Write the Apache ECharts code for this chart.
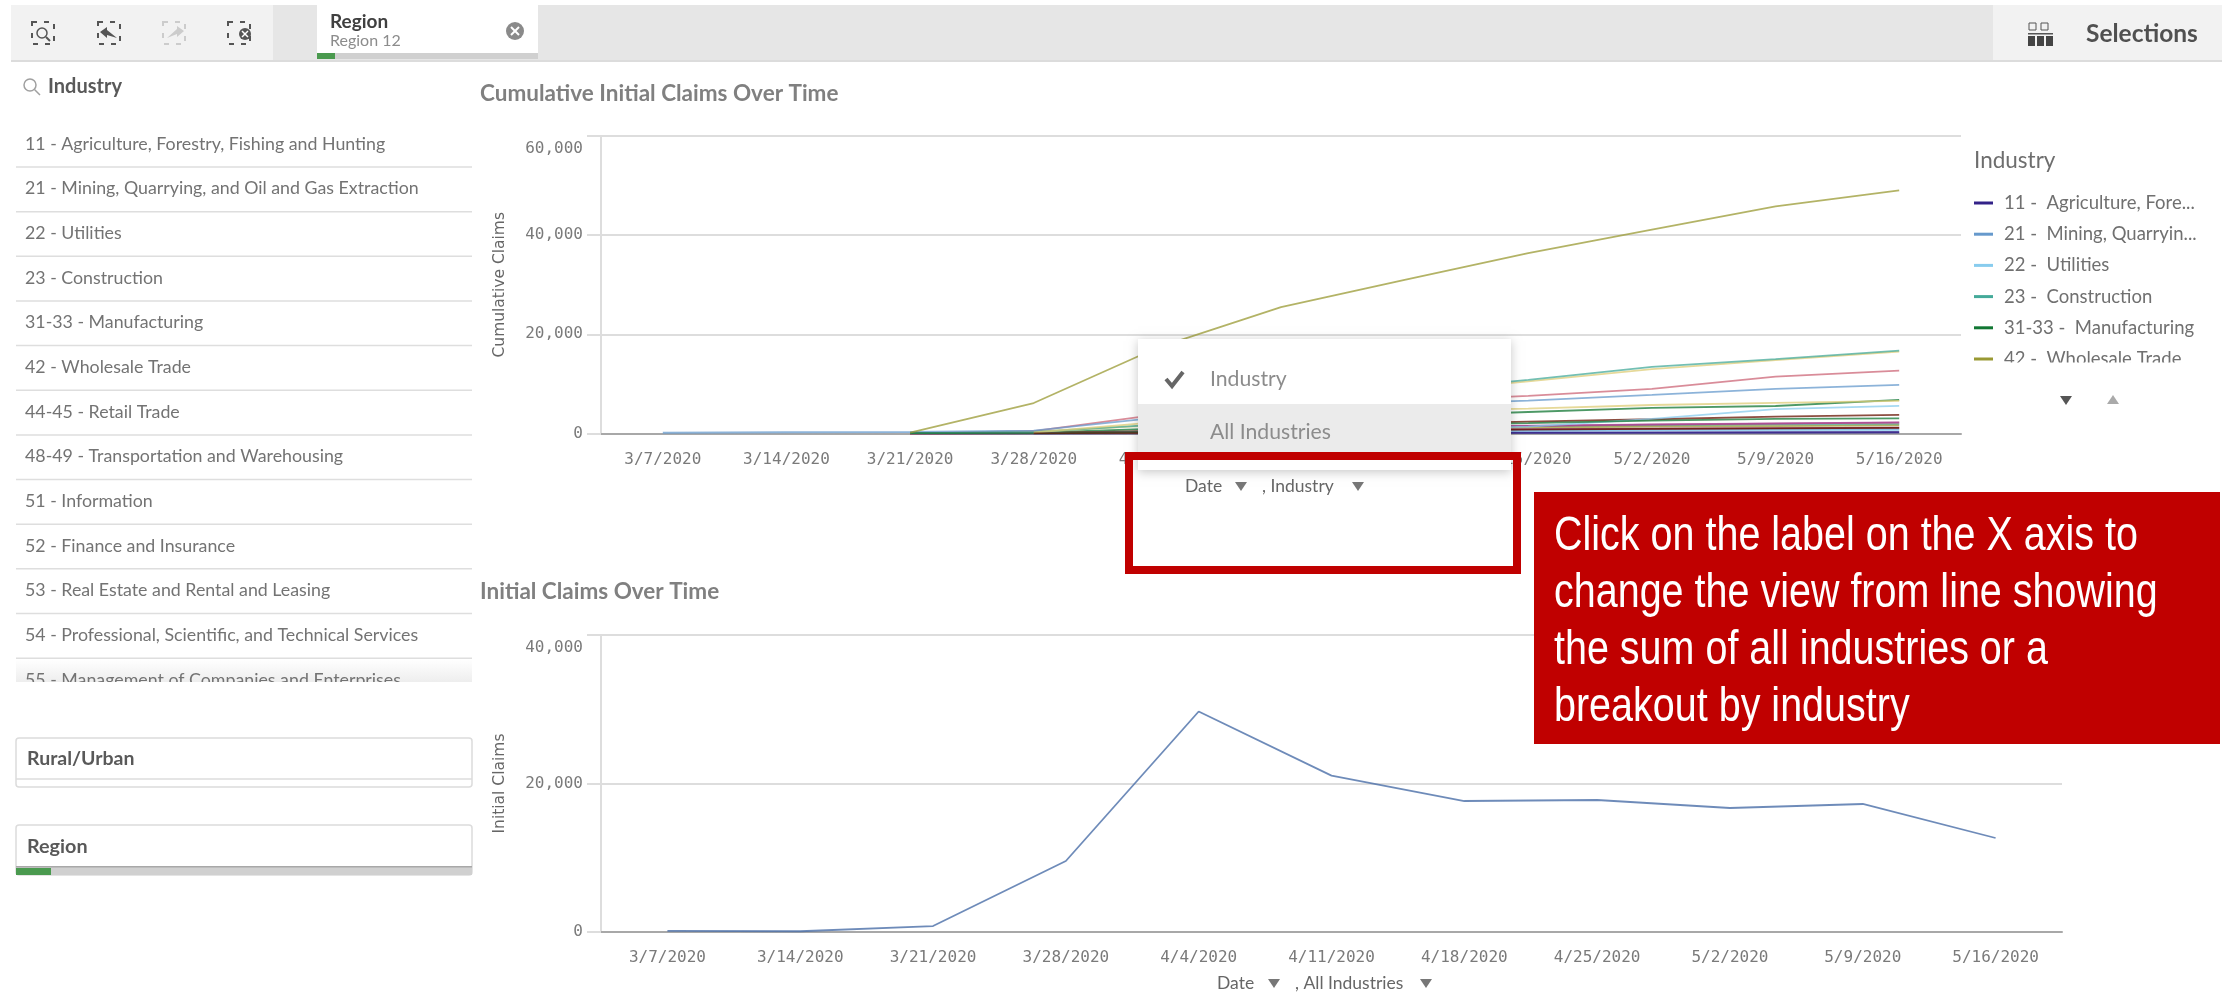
<!DOCTYPE html>
<html><head><meta charset="utf-8">
<style>html,body{margin:0;padding:0;background:#fff}#c{width:2227px;height:993px}</style>
<script src="https://cdn.jsdelivr.net/npm/echarts@6/dist/echarts.min.js"></script>
</head><body><div id="c"></div>
<script>
const dates = ['3/7/2020','3/14/2020','3/21/2020','3/28/2020','4/4/2020','4/11/2020','4/18/2020','4/25/2020','5/2/2020','5/9/2020','5/16/2020'];
const sideList = ['11 - Agriculture, Forestry, Fishing and Hunting','21 - Mining, Quarrying, and Oil and Gas Extraction','22 - Utilities','23 - Construction','31-33 - Manufacturing','42 - Wholesale Trade','44-45 - Retail Trade','48-49 - Transportation and Warehousing','51 - Information','52 - Finance and Insurance','53 - Real Estate and Rental and Leasing','54 - Professional, Scientific, and Technical Services','55 - Management of Companies and Enterprises'];
const industries = ['11 -  Agriculture, Forestry, Fishing and Hunting','21 -  Mining, Quarrying, and Oil and Gas Extraction','22 -  Utilities','23 -  Construction','31-33 -  Manufacturing','42 -  Wholesale Trade','44-45 -  Retail Trade','48-49 -  Transportation and Warehousing','51 -  Information','52 -  Finance and Insurance','53 -  Real Estate and Rental and Leasing','54 -  Professional, Scientific, and Technical Services','55 -  Management of Companies and Enterprises','56 -  Administrative and Support Services','61 -  Educational Services','62 -  Health Care and Social Assistance','71 -  Arts, Entertainment, and Recreation','72 -  Accommodation and Food Services','81 -  Other Services','92 -  Public Administration'];
const legendItems = industries.slice(0,6);
const palette = ['#332288','#6699cc','#88ccee','#44aa99','#117733','#999933','#ddcc77','#661100','#cc6677','#aa4466','#882255','#aa4499'];

const v11 = [null,null,1,5,30,60,90,110,130,150,160];
const v21 = [null,null,2,15,120,350,520,620,720,820,900];
const v22 = [null,null,1,10,60,200,380,480,560,640,700];
const v23 = [null,null,10,100,400,1000,1400,1500,1650,1800,1900];
const v31 = [null,null,30,150,1000,2400,3500,4340,5150,5550,6770];
const v42 = [null,null,5,60,300,700,1000,1200,1400,1500,1650];
const v44 = [null,null,15,280,1700,4800,8200,10500,13000,14800,16500];
const v48 = [null,null,5,60,500,1300,1900,2390,2870,3400,3740];
const v51 = [null,null,25,500,3800,5200,6500,7580,8980,11470,12690];
const v52 = [null,null,2,20,150,600,1200,1500,1800,2000,2180];
const v53 = [null,null,2,20,200,500,750,900,1000,1100,1170];
const v54 = [null,null,5,50,300,800,1300,1600,1850,2050,2250];
const v55 = [null,null,null,5,30,90,150,190,230,270,300];
const v56 = [150,250,300,560,3200,4700,5800,6620,7780,8980,9800];
const v61 = [null,null,null,20,100,300,800,1370,2930,4900,5560];
const v62 = [null,null,20,300,1800,5000,8500,10800,13420,15000,16730];
const v71 = [null,null,60,40,300,1000,1700,2100,2590,2930,3070];
const v72 = [null,null,180,6150,17300,25500,31000,36400,41100,45800,49050];
const v81 = [null,null,null,200,2300,3700,4500,5010,5750,6160,6560];
const v92 = [null,null,null,10,100,400,650,800,950,1050,1150];
const cumulative = [v11,v21,v22,v23,v31,v42,v44,v48,v51,v52,v53,v54,v55,v56,v61,v62,v71,v72,v81,v92];
const initialClaims = [150,100,800,9560,29700,21060,17640,17780,16700,17240,12660];

const UI = 'Lato, "Noto Sans", sans-serif';
const MONO = '"DejaVu Sans Mono", monospace';
const Z = 100;
const rect = (x,y,w,h,fill,extra) => Object.assign({type:'rect',z:Z,shape:{x,y,width:w,height:h},style:{fill}},extra||{});
const line = (x1,y1,x2,y2,stroke,lw) => ({type:'line',z:Z,shape:{x1,y1,x2,y2},style:{stroke,lineWidth:lw||1}});
const text = (x,y,t,size,fill,weight,family,extra) => Object.assign({type:'text',z:Z+1,x,y,style:{text:t,fontSize:size,fill,fontWeight:weight||'normal',fontFamily:family||UI,verticalAlign:'middle',align:'left'}},extra||{});
const tri = (cx,cy,fill,up) => ({type:'polygon',z:Z+1,shape:{points:up?[[cx-6,cy+4],[cx+6,cy+4],[cx,cy-5]]:[[cx-6,cy-4],[cx+6,cy-4],[cx,cy+5]]},style:{fill}});
const dash = (cx,cy,col) => ({type:'rect',z:Z,shape:{x:cx-11,y:cy-11,width:22,height:22},style:{fill:'none',stroke:col,lineWidth:2,lineDash:[5,7]}});

const g = [];
// toolbar
g.push(rect(11,5,262,56,'#f2f2f2'), rect(273,5,1720,56,'#e6e6e6'), rect(1993,5,229,56,'#f2f2f2'), rect(11,60,2211,2,'#dcdcdc'));
g.push(dash(43,33,'#555'), {type:'circle',z:Z,shape:{cx:42,cy:33,r:5},style:{fill:'none',stroke:'#555',lineWidth:1.5}}, line(46,37,50,41,'#555',2));
g.push(dash(109,33,'#555'), {type:'polygon',z:Z,shape:{points:[[100,32],[107,27],[107,30],[117,38],[107,35],[107,38]]},style:{fill:'#555'}});
g.push(dash(174,33,'#ccc'), {type:'polygon',z:Z,shape:{points:[[184,31],[177,26],[177,29],[167,38],[177,34],[177,37]]},style:{fill:'#ccc'}});
g.push(dash(239,33,'#555'), {type:'circle',z:Z,shape:{cx:245,cy:34,r:6},style:{fill:'#555'}}, line(242,31,248,37,'#fff',1.5), line(248,31,242,37,'#fff',1.5));
// tab
g.push(rect(317,5,221,48,'#fff'), rect(317,53,221,6,'#d0d0d0'), rect(317,53,18,6,'#4a9a4f'));
g.push(text(330,22,'Region',19,'#404040','bold'), text(330,41,'Region 12',16,'#8c8c8c'));
g.push({type:'circle',z:Z,shape:{cx:515,cy:31,r:9},style:{fill:'#8a8a8a'}}, line(511,27,519,35,'#fff',2), line(519,27,511,35,'#fff',2));
// selections
g.push(rect(2029,23,7,7,'none',{style:{fill:'none',stroke:'#555',lineWidth:1}}), rect(2041,23,7,7,'none',{style:{fill:'none',stroke:'#555',lineWidth:1}}), rect(2028,33,25,1.5,'#555'), rect(2028,36,7,10,'#444'), rect(2037,36,7,10,'#444'), rect(2046,36,7,10,'#444'));
g.push(text(2086,34,'Selections',24.5,'#505050','bold'));
// sidebar list
g.push({type:'circle',z:Z,shape:{cx:30,cy:85,r:6},style:{fill:'none',stroke:'#a0a0a0',lineWidth:1.5}}, line(34.5,89.5,40,95,'#a0a0a0',1.5));
g.push(text(48,87,'Industry',20,'#595959','bold'));
sideList.forEach((s,i)=>{
  const sep = 167+44.65*i;
  if(i===12){ g.push(rect(16,sep-44.65+1,456,25,'#f4f4f4',{style:{fill:new echarts.graphic.LinearGradient(0,0,0,1,[{offset:0,color:'#ffffff'},{offset:1,color:'#ececec'}])}})); }
  g.push(text(25,sep-23,s,17.8,'#737373'));
  if(i<12) g.push(line(16,sep,472,sep,'#dedede',1.5));
});
g.push(Object.assign(rect(0,682,490,34,'#fff'),{z:Z+2}));
// filter boxes
g.push({type:'rect',z:Z,shape:{x:16,y:738,width:456,height:49,r:3},style:{fill:'#fff',stroke:'#dcdcdc',lineWidth:1.5}}, line(16,779,472,779,'#dcdcdc',1.5));
g.push(text(27,759,'Rural/Urban',19.5,'#595959','bold'));
g.push({type:'rect',z:Z,shape:{x:16,y:825,width:456,height:50,r:3},style:{fill:'#fff',stroke:'#dcdcdc',lineWidth:1.5}}, rect(16,867,456,8,'#d0d0d0'), rect(16,866,456,1.5,'#a8a8a8'), rect(16,868,35,7,'#4a9a4f'));
g.push(text(27,847,'Region',19.8,'#595959','bold'));
// titles
g.push(text(480,94,'Cumulative Initial Claims Over Time',22.5,'#808080','bold'));
g.push(text(480,592,'Initial Claims Over Time',22.5,'#808080','bold'));
// legend heading, mask and pager
g.push(text(1974,161,'Industry',22.5,'#6e6e6e'));
g.push(rect(1968,362.5,259,26,'#fff'));
g.push(tri(2066,400,'#555',false), tri(2113,400,'#aaa',true));
// axis titles with dimension arrows
g.push(text(1185,486,'Date',17.5,'#666'), tri(1241,486,'#777',false), text(1262,486,', Industry',17.5,'#666'), tri(1358,486,'#777',false));
g.push(text(1217,983,'Date',17.5,'#666'), tri(1274,983,'#777',false), text(1295,983,', All Industries',17.5,'#666'), tri(1426,983,'#777',false));
// popup
g.push(rect(1138,339,373,131,'#fff',{style:{fill:'#fff',shadowBlur:10,shadowColor:'rgba(0,0,0,0.22)',shadowOffsetY:2}}));
g.push(rect(1138,404,373,48,'#ebebeb'));
g.push({type:'polyline',z:Z+1,shape:{points:[[1166,379],[1172,386],[1183,372]]},style:{fill:'none',stroke:'#666',lineWidth:4}});
g.push(text(1210,379,'Industry',21.2,'#8c8c8c'), text(1210,432,'All Industries',21.2,'#8c8c8c'));
// red box and callout
g.push({type:'rect',z:Z+2,shape:{x:1129,y:456,width:388,height:114},style:{fill:'none',stroke:'#c00000',lineWidth:8}});
g.push(Object.assign(rect(1534,492,686,252,'#c00000'),{z:Z+2}));
['Click on the label on the X axis to','change the view from line showing','the sum of all industries or a','breakout by industry'].forEach((s,i)=>{
  g.push(Object.assign(text(1554,536+i*57.3,s,49,'#fff','normal','"Liberation Sans", sans-serif'),{z:Z+3,scaleX:0.806}));
});

const labelStyle = {color:'#7a7a7a',fontFamily:MONO,fontSize:16};
const gridLine = {show:true,lineStyle:{color:'#dddddd',width:2}};
const yAxis = (gi,max,name) => ({
  type:'value',gridIndex:gi,min:0,max:max,interval:20000,
  name:name,nameLocation:'middle',nameGap:93,nameRotate:90,
  nameTextStyle:{color:'#666',fontFamily:'"DejaVu Sans", sans-serif',fontSize:15.5},
  axisLine:{show:true,lineStyle:{color:'#dddddd',width:2}},
  axisTick:{show:true,length:14,lineStyle:{color:'#dddddd',width:2}},
  splitLine:gridLine,
  axisLabel:Object.assign({margin:18,lineHeight:26,verticalAlignMaxLabel:'top',formatter:v=>v.toLocaleString('en-US')},labelStyle)
});
const xAxis = (gi) => ({
  type:'category',gridIndex:gi,data:dates,boundaryGap:true,
  axisLine:{show:true,onZero:false,lineStyle:{color:'#a8a8a8',width:2}},
  axisTick:{show:false},splitLine:{show:false},
  axisLabel:Object.assign({margin:18,interval:0},labelStyle)
});

const series = cumulative.map((vals,i)=>({
  name:industries[i],type:'line',xAxisIndex:0,yAxisIndex:0,data:vals,
  showSymbol:false,symbol:'none',animation:false,silent:true,
  itemStyle:{color:palette[i%palette.length]},
  lineStyle:{color:palette[i%palette.length],width:1.8,opacity:0.75}
}));
series.push({name:'Initial Claims',type:'line',xAxisIndex:1,yAxisIndex:1,data:initialClaims,showSymbol:false,symbol:'none',animation:false,silent:true,
  lineStyle:{color:'#4a6ea8',width:1.8,opacity:0.8}});

const chart = echarts.init(document.getElementById('c'),null,{width:2227,height:993});
chart.setOption({
  animation:false,backgroundColor:'#ffffff',
  grid:[{left:601,top:136,width:1360,height:297.5,containLabel:false},{left:601,top:635,width:1461,height:297,containLabel:false}],
  xAxis:[xAxis(0),xAxis(1)],
  yAxis:[yAxis(0,60000,'Cumulative Claims'),yAxis(1,40000,'Initial Claims')],
  legend:{show:true,orient:'vertical',left:1974,top:193,padding:0,data:legendItems,icon:'rect',itemWidth:19,itemHeight:3,itemGap:11.2,
    selectedMode:false,
    textStyle:{color:'#707070',fontFamily:UI,fontSize:18.5,lineHeight:20,width:197,overflow:'truncate',ellipsis:'...',padding:[0,0,0,6]}},
  series:series,
  graphic:{elements:g}
});
</script></body></html>
